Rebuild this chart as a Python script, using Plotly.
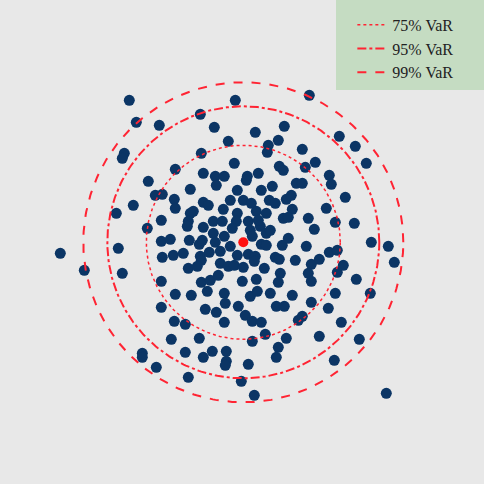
import numpy as np
import plotly.graph_objects as go

# Simulated portfolio outcomes (two risk factors)
x = [-11.4, -0.8, 6.6, -4.3, -10.7, -8.4, -2.9, 1.2, 4.1, 9.6,
     -1.5, 3.5, 11.2, 2.5, 2.4, 5.9, -11.9, -12.1, -4.2, 12.3,
     -0.9, 7.2, -6.8, 3.6, 4.0, 6.2, -4.0, -2.8, -1.9, 0.4,
     1.5, 8.6, 0.3, 8.8, -9.5, -5.3, -2.7, -0.6, 1.8, 2.9,
     5.3, 5.9, 10.2, -8.8, -8.1, -6.9, -6.8, -4.0, -3.5, -1.3,
     0.0, 0.8, 2.6, 3.2, 4.3, 4.8, -11.0, -12.7, -5.0, -5.3,
     -2.0, -0.6, 1.3, 2.3, 4.9, 8.3, -8.2, -9.6, -5.5, -5.6,
     -4.0, -3.0, -2.1, -0.7, -1.1, 0.5, 1.7, 2.3, 2.7, 4.0,
     4.5, 6.5, 7.1, 9.2, 11.1, -3.0, -1.9, 0.7, 0.9, 1.5,
     -8.2, -7.3, -5.4, -4.4, -4.1, -2.8, -1.3, 1.8, 2.3, 3.9,
     4.5, 6.3, 8.6, 9.4, 12.8, 14.5, 15.1, -18.3, -15.9, -12.5,
     -12.1, -8.1, -7.0, -6.0, -4.3, -4.2, -3.4, -2.3, -2.3, -1.5,
     -0.6, 0.5, 1.2, 1.1, 3.2, 3.6, 5.2, 6.8, 7.6, -5.5,
     -4.6, -0.9, 0.0, 2.1, 3.7, 6.5, 9.4, 10.0, -8.2, -4.2,
     -3.3, -2.5, -0.1, 1.3, 3.5, 6.8, 11.3, -6.8, -5.2, -3.6,
     -1.9, -1.8, 0.7, 1.4, 2.7, 4.9, 6.8, 9.2, 12.7, -8.2,
     -3.8, -2.7, -0.5, 0.2, 0.9, 1.8, 3.3, 4.1, 5.5, 5.9,
     8.5, -6.9, -5.8, -1.9, 9.8, -7.2, -4.4, 0.9, 2.2, 4.3,
     7.6, 11.6, -10.1, -10.1, -5.8, -4.0, -3.1, -1.7, -1.7, -1.8,
     0.5, 3.5, 3.3, 9.1, -8.7, -5.5, -0.2, 1.1, 14.3]
y = [14.2, 14.2, 14.7, 12.8, 12.0, 11.7, 11.5, 11.0, 11.6, 10.6,
     10.1, 10.2, 9.6, 9.7, 9.0, 9.3, 8.9, 8.4, 8.9, 7.9,
     7.9, 8.0, 7.3, 7.6, 7.2, 7.5, 6.9, 6.6, 6.6, 6.6,
     6.9, 6.7, 6.2, 5.8, 6.1, 5.3, 5.7, 5.2, 5.2, 5.6,
     5.9, 5.9, 4.5, 4.7, 4.8, 4.3, 3.4, 4.0, 3.7, 4.2,
     4.2, 3.9, 4.2, 3.9, 4.3, 4.7, 3.7, 2.9, 3.1, 2.9,
     3.3, 2.9, 3.1, 2.9, 3.3, 3.4, 2.2, 1.4, 2.1, 1.6,
     1.5, 2.1, 2.1, 2.1, 1.4, 2.1, 1.6, 0.9, 1.2, 2.4,
     2.5, 2.4, 1.3, 2.0, 1.9, 0.9, 0.6, 1.2, 0.6, 2.2,
     0.1, 0.3, 0.2, -0.2, 0.2, 0.0, -0.4, -0.2, -0.3, -0.3,
     0.4, -0.4, -1.0, -0.8, 0.0, -0.4, -2.0, -1.1, -2.8, -0.6,
     -3.1, -1.5, -1.3, -1.1, -1.4, -1.8, -1.0, -0.9, -2.1, -2.4,
     -1.3, -1.2, -1.4, -1.9, -1.5, -1.7, -1.8, -2.2, -1.7, -2.6,
     -2.4, -2.3, -2.5, -2.6, -3.1, -3.1, -3.0, -2.3, -3.9, -4.0,
     -3.8, -3.3, -3.9, -3.7, -4.0, -3.9, -3.7, -5.2, -5.3, -4.9,
     -5.1, -6.1, -5.4, -4.9, -5.1, -5.3, -6.0, -5.1, -5.1, -6.5,
     -6.7, -7.0, -6.4, -7.3, -7.9, -8.0, -6.4, -6.4, -7.8, -7.4,
     -6.6, -7.9, -8.2, -8.0, -8.0, -9.7, -9.6, -9.9, -9.2, -9.6,
     -9.4, -9.7, -11.1, -11.5, -11.0, -11.5, -10.9, -10.9, -11.9, -12.3,
     -12.2, -10.5, -11.5, -11.8, -12.5, -13.5, -13.9, -15.3, -15.1]

center = (0.0, 0.0)
var_labels = ["75% VaR", "95% VaR", "99% VaR"]
var_radius = [9.7, 13.6, 16.0]
var_dash = ["dot", "dashdot", "dash"]
var_width = [1.5, 2, 2]

red = "#ff2433"
theta = np.linspace(0, 2 * np.pi, 361)

fig = go.Figure()

fig.add_trace(go.Scatter(
    x=x, y=y, mode="markers", showlegend=False,
    marker=dict(size=11, color="#0b3565", line=dict(width=0))
))
fig.add_trace(go.Scatter(
    x=[center[0]], y=[center[1]], mode="markers", showlegend=False,
    marker=dict(size=10, color="#ff1010")
))

# VaR contours
for lab, r, d, w in zip(var_labels, var_radius, var_dash, var_width):
    fig.add_trace(go.Scatter(
        x=center[0] + r * np.cos(theta), y=center[1] + r * np.sin(theta),
        mode="lines", name=lab, hoverinfo="skip",
        line=dict(color=red, dash=d, width=w)
    ))

# legend box background
fig.add_shape(type="rect", xref="paper", yref="paper",
              x0=336/484, x1=1, y0=1-90/484, y1=1,
              fillcolor="#c5dcc2", line_width=0, layer="below")

fig.update_layout(
    width=484, height=484,
    margin=dict(l=0, r=0, t=0, b=0),
    paper_bgcolor="#e8e8e8", plot_bgcolor="#e8e8e8",
    xaxis=dict(range=[-24.33, 24.07], visible=False, fixedrange=True),
    yaxis=dict(range=[-24.17, 24.23], visible=False, fixedrange=True),
    legend=dict(x=0.728, y=0.984, xanchor="left", yanchor="top",
                bgcolor="rgba(0,0,0,0)", borderwidth=0,
                font=dict(family="Liberation Serif", size=16, color="#222222")),
)

fig.write_html("out.html", config={"displayModeBar": False},
               post_script="document.body.style.margin='0';")
